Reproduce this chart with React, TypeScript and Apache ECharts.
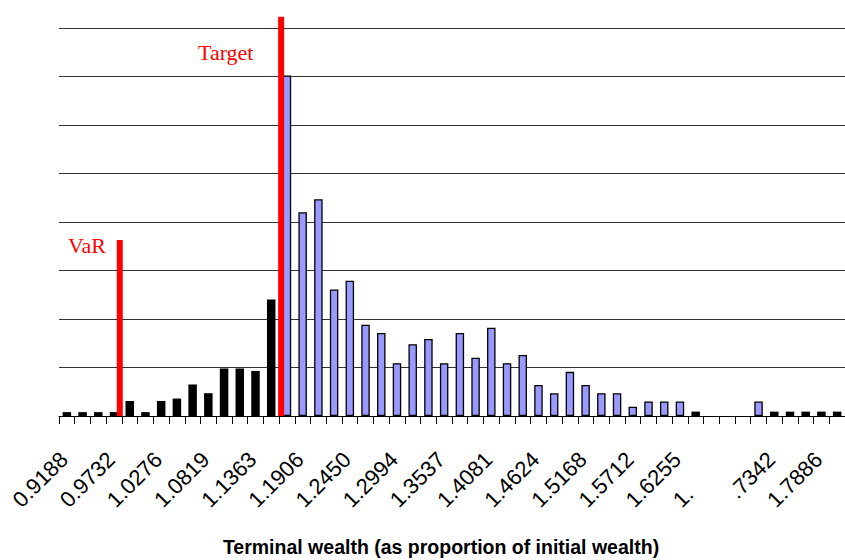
import React, { useEffect, useRef } from 'react';
import * as echarts from 'echarts';

// ---- data ----
const binStart = 0.9188; // centre of the first bin (terminal wealth)
const binStep = 0.018121; // bin width
const tickLabels = [
  '0.9188', '0.9732', '1.0276', '1.0819', '1.1363', '1.1906', '1.2450', '1.2994', '1.3537',
  '1.4081', '1.4624', '1.5168', '1.5712', '1.6255', '1.', '.7342', '1.7886',
];
// relative frequency (%), one per bin
const frequency = [
  0.08, 0.08, 0.08, 0.08, 0.31, 0.08, 0.31, 0.36, 0.65, 0.47,
  0.98, 0.98, 0.93, 2.4, 7.02, 4.2, 4.47, 2.61, 2.79, 1.88,
  1.71, 1.09, 1.48, 1.59, 1.09, 1.71, 1.2, 1.82, 1.09, 1.26,
  0.64, 0.47, 0.91, 0.64, 0.47, 0.47, 0.19, 0.3, 0.3, 0.3,
  0.09, 0, 0, 0, 0.3, 0.09, 0.09, 0.09, 0.09, 0.09,
];
const targetBinIndex = 14; // first bin at / above target
const varValue = 0.9798;
const varHeight = 3.63;
const targetValue = 1.1658;
const targetHeight = 8.23;

const categories = frequency.map((_, i) => (binStart + i * binStep).toFixed(4));
const labelEvery = 3;

export default function App() {
  const ref = useRef<HTMLDivElement>(null);
  useEffect(() => {
    if (!ref.current) return;
    const chart = echarts.init(ref.current, undefined, { renderer: 'svg' });
    const font = '"Liberation Sans", Arial, sans-serif';
    const serif = '"Liberation Serif", "Times New Roman", serif';
    const labelSize = 22;
    chart.setOption({
      animation: false,
      grid: { left: 59, top: 28, width: 793.5, height: 388, containLabel: false },
      xAxis: [
        {
          type: 'category',
          data: categories,
          boundaryGap: true,
          axisLine: { lineStyle: { color: '#000', width: 1 } },
          axisTick: { show: true, interval: 0, length: 8, lineStyle: { color: '#000', width: 1 } },
          axisLabel: {
            interval: (i: number) => i % labelEvery === 0,
            rotate: 45,
            margin: 37,
            color: '#000',
            fontSize: labelSize,
            fontFamily: font,
            formatter: (_v: string, i: number) => {
              const t = tickLabels[Math.round(i / labelEvery)] ?? '';
              return t === '1.' ? `{b|${t}}` : `{a|${t}}`;
            },
            rich: {
              a: { fontSize: labelSize, fontFamily: font, color: '#000', padding: [0, 4, 0, 0] },
              b: { fontSize: labelSize, fontFamily: font, color: '#000', padding: [0, 53, 0, 0] },
            },
          },
          splitLine: { show: false },
        },
        {
          type: 'value',
          min: binStart - binStep / 2,
          max: binStart + binStep * (frequency.length - 0.5),
          show: false,
        },
      ],
      yAxis: {
        type: 'value',
        min: 0,
        max: 8,
        interval: 1,
        axisLine: { show: false },
        axisTick: { show: false },
        axisLabel: { show: false },
        splitLine: { show: true, lineStyle: { color: '#333', width: 1 } },
      },
      series: [
        {
          type: 'bar',
          xAxisIndex: 0,
          barWidth: 8.5,
          silent: true,
          data: frequency.map((v, i) => {
            const dark = i < targetBinIndex || v < 0.15;
            return {
              value: v,
              itemStyle: dark
                ? { color: '#000', borderWidth: 0 }
                : { color: '#9999ff', borderColor: '#000', borderWidth: 1.3 },
            };
          }),
        },
        {
          type: 'line',
          xAxisIndex: 1,
          data: [[varValue, 0], [varValue, varHeight]],
          symbol: 'none',
          clip: false,
          silent: true,
          z: 5,
          lineStyle: { color: '#ff0000', width: 6, cap: 'butt' },
        },
        {
          type: 'line',
          xAxisIndex: 1,
          data: [[targetValue, 0], [targetValue, targetHeight]],
          symbol: 'none',
          clip: false,
          silent: true,
          z: 5,
          lineStyle: { color: '#ff0000', width: 6, cap: 'butt' },
        },
      ],
      graphic: [
        {
          type: 'text',
          x: 198,
          y: 52.5,
          style: { text: 'Target', fill: '#ff0000', fontSize: 22, fontFamily: serif, align: 'left', verticalAlign: 'middle' },
        },
        {
          type: 'text',
          x: 68,
          y: 245.5,
          style: { text: 'VaR', fill: '#ff0000', fontSize: 22, fontFamily: serif, align: 'left', verticalAlign: 'middle' },
        },
        {
          type: 'text',
          x: 441,
          y: 547,
          style: {
            text: 'Terminal wealth (as proportion of initial wealth)',
            fill: '#000',
            fontSize: 19.5,
            fontWeight: 'bold',
            fontFamily: font,
            align: 'center',
            verticalAlign: 'middle',
          },
        },
      ],
    });
    return () => chart.dispose();
  }, []);
  return (
    <div
      ref={ref}
      style={{ position: 'fixed', left: 0, top: 0, width: 845, height: 560, overflow: 'hidden', background: '#fff' }}
    />
  );
}
